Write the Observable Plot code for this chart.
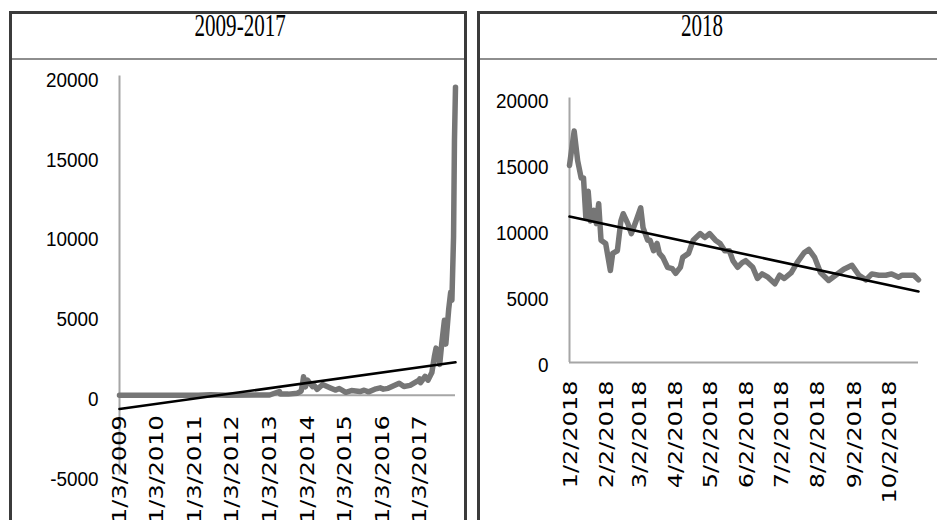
<!DOCTYPE html>
<html>
<head>
<meta charset="utf-8">
<script src="https://cdn.jsdelivr.net/npm/d3@7"></script>
<script src="https://cdn.jsdelivr.net/npm/@observablehq/plot@0.6"></script>
<style>
  html, body { margin: 0; padding: 0; background: #fff; }
  body { position: relative; width: 937px; height: 520px; overflow: hidden; }
  .panel { position: absolute; top: 11px; height: 620px; border: 3px solid #3b3b3b; box-sizing: border-box; }
  .sep { position: absolute; left: 0; right: 0; top: 44px; height: 2px; background: #8e8e8e; }
  .title { position: absolute; top: 10px; width: 300px; text-align: center;
           font: 31px/31px "Liberation Serif", "Times New Roman", serif; color: #000; }
  .title span { display: inline-block; transform: scaleX(0.68); }
  .chart { position: absolute; top: 60px; }
</style>
</head>
<body>
<div class="panel" style="left:9px;width:458px"><div class="sep"></div></div>
<div class="panel" style="left:477px;width:520px"><div class="sep"></div></div>
<div class="title" style="left:90px"><span>2009-2017</span></div>
<div class="title" style="left:552px"><span>2018</span></div>
<div id="left" class="chart" style="left:12px"></div>
<div id="right" class="chart" style="left:480px"></div>

<script>
// Bitcoin closing price (USD), 2009-2017
const histDates = [
  "2009-01-03", "2010-07-17", "2011-02-09", "2011-06-08", "2011-11-18", "2012-08-17",
  "2013-01-03", "2013-04-09", "2013-04-16", "2013-07-05", "2013-10-01", "2013-11-06",
  "2013-11-19", "2013-11-29", "2013-12-18", "2014-01-05", "2014-02-25", "2014-03-10",
  "2014-04-10", "2014-06-03", "2014-08-18", "2014-10-04", "2014-11-12", "2015-01-14",
  "2015-03-10", "2015-06-01", "2015-07-12", "2015-08-24", "2015-11-04", "2015-12-15",
  "2016-01-15", "2016-03-01", "2016-06-17", "2016-08-02", "2016-10-01", "2016-12-31",
  "2017-01-03", "2017-01-11", "2017-02-24", "2017-03-24", "2017-05-01", "2017-05-25",
  "2017-06-11", "2017-07-16", "2017-08-05", "2017-08-31", "2017-09-14", "2017-10-12",
  "2017-10-31", "2017-11-12", "2017-11-28", "2017-12-07", "2017-12-17"
];
const histValues = [
  0, 0.05, 1, 30, 2, 13,
  13, 230, 70, 68, 125, 260,
  680, 1150, 520, 950, 540, 630,
  370, 670, 450, 320, 420, 180,
  290, 230, 310, 210, 400, 460,
  380, 430, 750, 550, 615, 960,
  1020, 780, 1180, 940, 1420, 2400,
  2950, 1930, 3230, 4700, 3200, 5400,
  6450, 5950, 9900, 16000, 19300
];
const histTrendDates = ["2009-01-03", "2017-12-17"];
const histTrendValues = [-865, 2060];
const histTickDates = ["2009-01-03", "2010-01-03", "2011-01-03", "2012-01-03", "2013-01-03",
                       "2014-01-03", "2015-01-03", "2016-01-03", "2017-01-03"];
const histTickLabels = ["1/3/2009", "1/3/2010", "1/3/2011", "1/3/2012", "1/3/2013",
                        "1/3/2014", "1/3/2015", "1/3/2016", "1/3/2017"];
const histYTicks = [-5000, 0, 5000, 10000, 15000, 20000];

// Bitcoin closing price (USD), January to October 2018
const recentDates = [
  "2018-01-01", "2018-01-05", "2018-01-08", "2018-01-11", "2018-01-13", "2018-01-15",
  "2018-01-17", "2018-01-19", "2018-01-22", "2018-01-24", "2018-01-26", "2018-01-28",
  "2018-02-01", "2018-02-05", "2018-02-07", "2018-02-11", "2018-02-14", "2018-02-16",
  "2018-02-20", "2018-02-23", "2018-02-27", "2018-03-03", "2018-03-05", "2018-03-09",
  "2018-03-11", "2018-03-14", "2018-03-17", "2018-03-19", "2018-03-22", "2018-03-26",
  "2018-03-30", "2018-04-02", "2018-04-06", "2018-04-08", "2018-04-13", "2018-04-17",
  "2018-04-23", "2018-04-27", "2018-05-01", "2018-05-06", "2018-05-10", "2018-05-14",
  "2018-05-18", "2018-05-21", "2018-05-25", "2018-05-29", "2018-06-01", "2018-06-07",
  "2018-06-11", "2018-06-15", "2018-06-20", "2018-06-26", "2018-06-30", "2018-07-04",
  "2018-07-10", "2018-07-15", "2018-07-21", "2018-07-25", "2018-07-30", "2018-08-04",
  "2018-08-11", "2018-08-17", "2018-08-24", "2018-08-31", "2018-09-06", "2018-09-12",
  "2018-09-17", "2018-09-23", "2018-09-29", "2018-10-04", "2018-10-10", "2018-10-13",
  "2018-10-19", "2018-10-23", "2018-10-27"
];
const recentValues = [
  14900, 17500, 15250, 13950, 13950, 10950,
  12950, 10700, 11500, 10500, 12000, 9250,
  9000, 6950, 8250, 8450, 10700, 11250,
  10500, 9750, 10700, 11700, 10200, 9250,
  9250, 8450, 9000, 8250, 7950, 7200,
  7100, 6750, 7200, 7950, 8250, 9250,
  9750, 9450, 9750, 9250, 9000, 8450,
  8450, 7700, 7200, 7550, 7700, 7200,
  6350, 6700, 6450, 5950, 6600, 6350,
  6800, 7550, 8300, 8550, 7950, 6800,
  6200, 6600, 7050, 7350, 6600, 6250,
  6700, 6600, 6600, 6700, 6450, 6600,
  6600, 6600, 6250
];
const recentTrendDates = ["2018-01-01", "2018-10-27"];
const recentTrendValues = [11040, 5370];
const recentTickDates = ["2018-01-02", "2018-02-02", "2018-03-02", "2018-04-02", "2018-05-02",
                         "2018-06-02", "2018-07-02", "2018-08-02", "2018-09-02", "2018-10-02"];
const recentTickLabels = ["1/2/2018", "2/2/2018", "3/2/2018", "4/2/2018", "5/2/2018",
                          "6/2/2018", "7/2/2018", "8/2/2018", "9/2/2018", "10/2/2018"];
const recentYTicks = [0, 5000, 10000, 15000, 20000];

const parse = d3.utcParse("%Y-%m-%d");

function priceChart({dates, values, trendDates, trendValues, tickDates, tickLabels, yTicks,
                     width, height, margins, labelDy, valueDy}) {
  const series = dates.map((d, i) => ({date: parse(d), value: values[i]}));
  const trend = trendDates.map((d, i) => ({date: parse(d), value: trendValues[i]}));
  const ticks = tickDates.map((d, i) => ({date: parse(d), label: tickLabels[i]}));
  const x0 = series[0].date;
  const yDomain = [d3.min(yTicks), d3.max(yTicks)];
  const svg = Plot.plot({
    width, height,
    marginLeft: margins[0], marginRight: margins[1], marginTop: margins[2], marginBottom: margins[3],
    style: {background: "transparent", overflow: "visible"},
    x: {type: "utc", domain: [x0, series[series.length - 1].date], axis: null},
    y: {domain: yDomain, axis: null},
    marks: [
      Plot.ruleX([x0], {y1: yDomain[0], y2: yDomain[1], stroke: "#a6a6a6", strokeWidth: 2}),
      Plot.ruleY([0], {stroke: "#a6a6a6", strokeWidth: 2}),
      Plot.line(series, {x: "date", y: "value", stroke: "#767676", strokeWidth: 5.5,
                         strokeLinejoin: "round", strokeLinecap: "round"}),
      Plot.line(trend, {x: "date", y: "value", stroke: "#000", strokeWidth: 2.6}),
      Plot.text(yTicks, {x: () => x0, y: d => d, text: d => String(d), textAnchor: "end",
                         dx: -21, dy: valueDy, fontSize: 21, fontFamily: "Liberation Sans",
                         fill: "#000"}),
      Plot.text(ticks, {x: "date", y: () => 0, text: "label", rotate: -90, textAnchor: "end",
                        dy: labelDy, fontSize: 24, fontFamily: "DejaVu Sans", fill: "#000"})
    ]
  });
  // narrow the label glyphs: value labels horizontally, rotated date labels across their height
  d3.select(svg).selectAll("text").each(function () {
    let t = this.getAttribute("transform") || "";
    const rotated = /rotate/.test(t);
    if (!/translate/.test(t)) {
      const x = +this.getAttribute("x") || 0, y = +this.getAttribute("y") || 0;
      this.removeAttribute("x"); this.removeAttribute("y");
      t = `translate(${x},${y}) ${t}`;
    }
    this.setAttribute("transform", t + (rotated ? " scale(1,0.83)" : " scale(0.9,1)"));
  });
  return svg;
}

document.getElementById("left").append(priceChart({
  dates: histDates, values: histValues, trendDates: histTrendDates, trendValues: histTrendValues,
  tickDates: histTickDates, tickLabels: histTickLabels, yTicks: histYTicks,
  width: 453, height: 460, margins: [107, 10, 15.5, 45.5], labelDy: 20, valueDy: 4
}));
document.getElementById("right").append(priceChart({
  dates: recentDates, values: recentValues, trendDates: recentTrendDates, trendValues: recentTrendValues,
  tickDates: recentTickDates, tickLabels: recentTickLabels, yTicks: recentYTicks,
  width: 457, height: 460, margins: [89, 19, 37.5, 158], labelDy: 18, valueDy: 3
}));
</script>
</body>
</html>
